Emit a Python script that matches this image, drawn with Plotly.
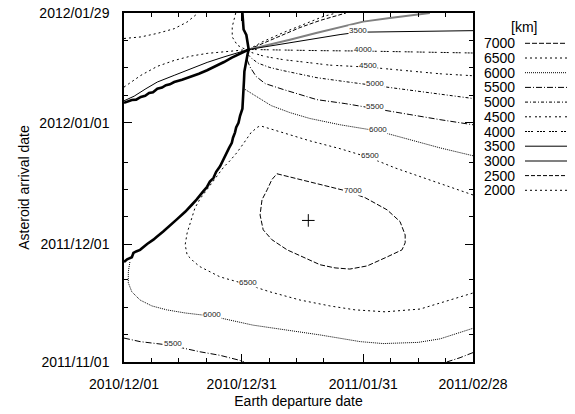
import pandas as pd
import plotly.graph_objects as go

# Day offsets: departure counted from 2010-12-01, arrival counted from 2011-11-01
DEP0 = pd.Timestamp("2010-12-01")
ARR0 = pd.Timestamp("2011-11-01")

# ---- contour lines of the Earth distance [km] ----
c2000_a_dep = [0, 4.3, 8.5, 12.8, 16.1, 18.3, 18.9]
c2000_a_arr = [82.5, 82.9, 83.8, 85.0, 86.7, 88.4, 89.0]
c2000_b_dep = [0, 4.3, 8.5, 12.8, 17.0, 21.2, 25.5, 29.8, 31.8]
c2000_b_arr = [70.1, 73.1, 75.4, 76.9, 78.0, 78.7, 79.1, 79.5, 79.7]
c2000_c_dep = [28.5, 27.6, 27.6, 28.9, 30.6, 31.8]
c2000_c_arr = [89.0, 85.5, 82.9, 80.8, 79.9, 79.7]
c2000_d_dep = [31.8, 35.2, 40.6, 46.2, 50.8, 54.1]
c2000_d_arr = [79.7, 81.6, 84.0, 86.3, 88.1, 89.0]

c2500_dep = [31.8, 35.2, 39.8, 44.9, 50.0, 55.1, 56.6]
c2500_arr = [79.7, 81.2, 83.1, 85.3, 87.1, 88.6, 89.0]

c3000_dep = [31.8, 37.2, 42.3, 49.0, 55.1, 61.0, 67.8, 72.9, 78.0]
c3000_arr = [79.7, 80.9, 82.2, 83.9, 85.4, 86.8, 87.7, 88.4, 89.0]

c3500_a_dep = [0, 2.6, 5.6, 8.5, 12.8, 17.0, 21.2, 25.5, 28.8, 31.8]
c3500_a_arr = [66.6, 67.8, 69.7, 71.4, 73.1, 74.8, 76.4, 77.8, 78.9, 79.7]
c3500_b_dep = [31.8, 37.2, 42.3, 49.0, 55.1, 59.7, 66.6, 74.7, 81.9, 89.0]
c3500_b_arr = [79.7, 80.6, 81.5, 82.6, 83.5, 84.1, 84.2, 84.3, 84.4, 84.5]

c4000_dep = [31.8, 39.8, 50.0, 61.0, 70.4, 80.6, 89.0]
c4000_arr = [79.7, 79.5, 79.4, 79.3, 79.1, 79.0, 78.8]

c4500_dep = [31.8, 32.6, 36.0, 40.6, 44.9, 52.5, 62.2, 72.2, 80.6, 89.0]
c4500_arr = [79.7, 78.9, 77.9, 77.1, 76.6, 75.7, 75.2, 74.3, 73.5, 73.0]

c5000_dep = [31.6, 32.6, 34.2, 37.2, 40.6, 49.2, 56.4, 64.0, 72.9, 80.6, 89.0]
c5000_arr = [78.4, 77.4, 76.2, 75.1, 74.3, 72.5, 71.5, 70.5, 69.2, 68.2, 67.2]

c5500_a_dep = [31.4, 32.1, 33.7, 36.0, 40.6, 49.2, 56.4, 64.0, 72.9, 80.6, 89.0]
c5500_a_arr = [77.1, 75.3, 72.8, 71.0, 69.5, 66.9, 65.9, 64.7, 63.1, 61.8, 60.5]
c5500_b_dep = [0, 4.1, 9.9, 12.5, 19.4, 24.5, 29.6, 30.6]
c5500_b_arr = [6.1, 5.2, 4.5, 4.1, 2.6, 1.7, 0.4, 0.0]
c5500_c_dep = [82.3, 85.7, 89.0]
c5500_c_arr = [0.0, 1.1, 2.4]

c6000_a_dep = [30.9, 33.9, 37.5, 42.3, 47.4, 55.1, 64.8, 72.9, 80.6, 89.0]
c6000_a_arr = [69.5, 67.7, 65.4, 63.6, 62.1, 60.5, 58.9, 56.7, 54.6, 52.6]
c6000_b_dep = [1.5, 1.1, 1.1, 2.0, 4.1, 7.1, 10.9, 15.6, 22.4, 27.0, 32.9,
               41.1, 50.0, 60.2, 66.1, 75.0, 80.6, 89.0]
c6000_b_arr = [25.5, 23.0, 20.2, 17.9, 15.8, 14.3, 13.3, 12.5, 11.7, 10.7, 9.4,
               8.2, 6.9, 5.2, 4.7, 5.0, 5.9, 8.6]

c6500_dep = [89.0, 83.1, 75.5, 69.1, 62.7, 55.1, 47.4, 42.3, 37.2, 35.2, 34.2,
             32.4, 30.6, 28.8, 27.0, 25.5, 24.0, 22.4, 20.9, 19.4, 18.1, 17.1,
             16.1, 15.6, 16.1, 17.9, 19.4, 24.5, 31.6, 37.2, 44.9, 52.5, 58.9,
             66.6, 75.5, 83.1, 89.0]
c6500_arr = [42.6, 44.7, 47.2, 49.5, 52.1, 54.4, 56.4, 58.0, 59.6, 60.1, 60.0,
             58.5, 55.9, 53.4, 51.3, 49.8, 47.8, 45.7, 43.7, 41.6, 39.3, 36.3,
             32.9, 29.9, 27.3, 25.5, 24.3, 21.7, 19.7, 17.9, 15.8, 14.3, 13.3,
             12.8, 13.5, 15.8, 17.6]

c7000_dep = [39.0, 43.1, 50.0, 56.4, 61.5, 67.1, 70.4, 71.7, 71.7, 70.9, 67.1,
             62.0, 57.6, 53.8, 50.0, 44.9, 41.6, 37.7, 35.5, 34.7, 35.2, 36.5,
             37.7, 39.0]
c7000_arr = [48.0, 47.0, 45.2, 43.7, 41.9, 38.8, 35.8, 32.4, 30.4, 28.6, 26.8,
             24.5, 23.7, 24.0, 24.8, 27.1, 28.6, 31.2, 33.7, 37.5, 41.4, 43.9,
             46.5, 48.0]

# ---- discontinuity ridge (steep gradient band) ----
ridge_main_dep = [30.2, 30.3, 30.5, 31.2, 31.5, 31.8, 31.5, 31.0, 30.7, 30.6, 30.5,
                  30.4, 30.2, 29.6, 29.2, 28.6, 28.3, 27.8, 27.5, 26.8, 26.2, 25.2,
                  24.5, 23.5, 22.8, 21.9, 21.2, 20.2, 19.4, 18.5, 17.3, 15.6, 13.4,
                  11.7, 10.0, 8.3, 7.5, 5.9, 4.5, 4.1, 3.1, 2.4, 2.0, 0.8, 0.0]
ridge_main_arr = [89.0, 86.8, 84.8, 83.4, 81.2, 79.7, 78.4, 76.1, 74.1, 71.8, 69.5,
                  67.7, 64.6, 62.8, 61.0, 59.8, 58.5, 57.2, 55.9, 54.6, 53.4, 51.6,
                  49.9, 48.5, 46.9, 46.0, 44.7, 43.5, 42.4, 41.4, 40.1, 38.3, 36.3,
                  34.7, 33.3, 31.9, 31.2, 30.1, 29.0, 28.6, 28.2, 27.8, 26.7, 26.2,
                  25.5]
ridge_upper_dep = [0, 1.0, 2.0, 3.1, 4.3, 5.4, 6.4, 7.4, 8.5, 9.7, 10.7, 11.7,
                   12.8, 14.8, 17.0, 19.1, 21.2, 23.2, 25.5, 27.5, 29.8, 31.8]
ridge_upper_arr = [66.1, 66.4, 66.8, 66.9, 67.6, 67.9, 68.6, 68.8, 69.7, 70.0, 70.6,
                   70.8, 71.4, 72.0, 72.7, 73.5, 74.4, 75.3, 76.5, 77.6, 78.8, 79.7]

# ---- contour labels on the lines ----
label_text = ["3500", "4000", "4500", "5000", "5500", "6000", "6500", "7000",
              "6500", "6000", "5500"]
label_dep = [59.7, 61.0, 62.2, 64.0, 64.0, 64.8, 62.7, 58.4, 31.6, 22.4, 12.5]
label_arr = [84.1, 79.3, 75.2, 70.5, 64.7, 58.9, 52.1, 43.3, 19.7, 11.7, 4.1]

# optimum marker
best_dep = [47.0]
best_arr = [36.1]

# ---- axis ticks ----
x_major = ["2010-12-01", "2010-12-31", "2011-01-31", "2011-02-28"]
x_major_text = ["2010/12/01", "2010/12/31", "2011/01/31", "2011/02/28"]
x_minor = ["2010-12-08", "2010-12-15", "2010-12-22", "2011-01-07", "2011-01-14",
           "2011-01-21", "2011-02-07", "2011-02-14", "2011-02-21"]
y_major = ["2011-11-01", "2011-12-01", "2012-01-01", "2012-01-29"]
y_major_text = ["2011/11/01", "2011/12/01", "2012/01/01", "2012/01/29"]
y_minor = ["2011-11-08", "2011-11-15", "2011-11-22", "2011-12-08", "2011-12-15",
           "2011-12-22", "2012-01-08", "2012-01-15", "2012-01-22"]

# line style per level: (dash, color, width)
levels = [7000, 6500, 6000, 5500, 5000, 4500, 4000, 3500, 3000, 2500, 2000]
styles = {
    7000: ("5px,2px", "black", 1),
    6500: ("2px,3px", "black", 1),
    6000: ("1px,1px", "black", 1),
    5500: ("6px,2px,1px,2px", "black", 1),
    5000: ("3px,2px,1px,2px", "black", 1),
    4500: ("2px,2px,2px,4px", "black", 1),
    4000: ("2px,1px,2px,1px,2px,4px", "black", 1),
    3500: ("solid", "black", 1),
    3000: ("solid", "#808080", 2),
    2500: ("4px,2px", "black", 1),
    2000: ("2px,3px", "black", 1),
}

contours = [
    (2000, c2000_a_dep, c2000_a_arr), (2000, c2000_b_dep, c2000_b_arr),
    (2000, c2000_c_dep, c2000_c_arr), (2000, c2000_d_dep, c2000_d_arr),
    (2500, c2500_dep, c2500_arr), (3000, c3000_dep, c3000_arr),
    (3500, c3500_a_dep, c3500_a_arr), (3500, c3500_b_dep, c3500_b_arr),
    (4000, c4000_dep, c4000_arr), (4500, c4500_dep, c4500_arr),
    (5000, c5000_dep, c5000_arr),
    (5500, c5500_a_dep, c5500_a_arr), (5500, c5500_b_dep, c5500_b_arr),
    (5500, c5500_c_dep, c5500_c_arr),
    (6000, c6000_a_dep, c6000_a_arr), (6000, c6000_b_dep, c6000_b_arr),
    (6500, c6500_dep, c6500_arr), (7000, c7000_dep, c7000_arr),
]


def dep_dates(days):
    return DEP0 + pd.to_timedelta(days, unit="D")


def arr_dates(days):
    return ARR0 + pd.to_timedelta(days, unit="D")


FONT = "Liberation Sans, Arial, Helvetica, sans-serif"
fig = go.Figure()

for level, d, a in contours:
    dash, color, width = styles[level]
    fig.add_trace(go.Scatter(
        x=dep_dates(d), y=arr_dates(a), mode="lines", name=str(level),
        line=dict(color=color, width=width, dash=dash),
        showlegend=False, hoverinfo="skip"))

for d, a in [(ridge_main_dep, ridge_main_arr), (ridge_upper_dep, ridge_upper_arr)]:
    fig.add_trace(go.Scatter(
        x=dep_dates(d), y=arr_dates(a), mode="lines",
        line=dict(color="black", width=2.6), showlegend=False, hoverinfo="skip"))

fig.add_trace(go.Scatter(
    x=dep_dates(best_dep), y=arr_dates(best_arr), mode="markers",
    marker=dict(symbol="cross-thin", size=9, line=dict(color="black", width=1)),
    showlegend=False, hoverinfo="skip"))

for t, d, a in zip(label_text, label_dep, label_arr):
    fig.add_annotation(
        x=dep_dates([d])[0], y=arr_dates([a])[0], text=t, showarrow=False,
        font=dict(family=FONT, size=8, color="#222"), bgcolor="white",
        borderpad=0, yshift=2)

# key box to the right of the plot (numbers on the left, line samples on the right)
L, R, T, B = 124, 473, 13, 362


def px_x(px):
    return (px - L) / (R - L)


def px_y(py):
    return (B - py) / (B - T)


fig.add_annotation(x=px_x(539), y=px_y(26.5), xref="paper", yref="paper",
                   text="[km]", showarrow=False, yanchor="middle",
                   font=dict(family=FONT, size=14, color="black"))
for i, level in enumerate(levels):
    row_y = 43.3 + i * 14.7
    dash, color, width = styles[level]
    fig.add_annotation(x=px_x(516), y=px_y(row_y), xref="paper", yref="paper",
                       text=str(level), showarrow=False, xanchor="right",
                       yanchor="middle", borderpad=0,
                       font=dict(family=FONT, size=14, color="black"))
    fig.add_shape(type="line", xref="paper", yref="paper",
                  x0=px_x(525), x1=px_x(567), y0=px_y(row_y), y1=px_y(row_y),
                  line=dict(color=color, width=width, dash=dash))

axis_common = dict(
    tickmode="array", ticks="inside", ticklen=8, tickwidth=1, tickcolor="black",
    showline=True, linecolor="black", linewidth=1.5, mirror="ticks",
    showgrid=False, zeroline=False, automargin=False,
    tickfont=dict(family=FONT, size=14, color="black"),
)

fig.update_layout(
    width=575, height=414,
    margin=dict(l=L, r=575 - R, t=T, b=414 - B),
    paper_bgcolor="white", plot_bgcolor="white",
    font=dict(family=FONT, size=14, color="black"),
    xaxis=dict(
        type="date", range=["2010-12-01", "2011-02-28"],
        tickvals=x_major, ticktext=x_major_text, ticklabelstandoff=8,
        minor=dict(tickmode="array", tickvals=x_minor, ticks="inside",
                   ticklen=4, tickcolor="black", showgrid=False),
        title=dict(text="Earth departure date", standoff=6,
                   font=dict(family=FONT, size=14)),
        **axis_common),
    yaxis=dict(
        type="date", range=["2011-11-01", "2012-01-29"],
        tickvals=y_major, ticktext=y_major_text, ticklabelstandoff=10,
        minor=dict(tickmode="array", tickvals=y_minor, ticks="inside",
                   ticklen=4, tickcolor="black", showgrid=False),
        title=dict(text="Asteroid arrival date", standoff=6,
                   font=dict(family=FONT, size=14)),
        **axis_common),
)

fig.write_html("out.html")
